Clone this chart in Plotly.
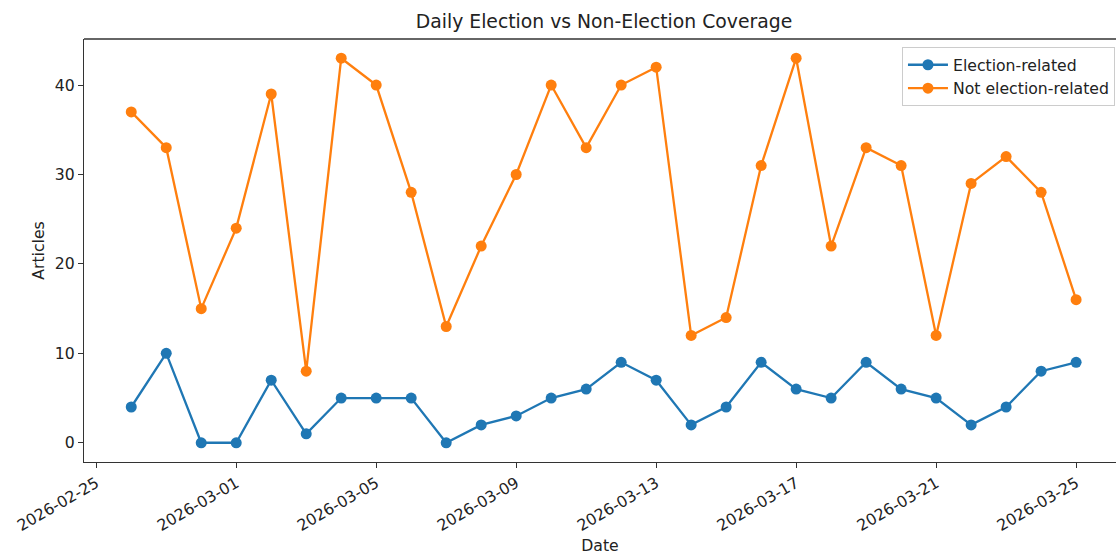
import plotly.graph_objects as go
import pandas as pd

# Daily article counts, 2026-02-26 through 2026-03-25
dates = pd.date_range("2026-02-26", "2026-03-25", freq="D")
election_related = [4, 10, 0, 0, 7, 1, 5, 5, 5, 0, 2, 3, 5, 6, 9, 7, 2, 4, 9, 6,
                    5, 9, 6, 5, 2, 4, 8, 9]
not_election_related = [37, 33, 15, 24, 39, 8, 43, 40, 28, 13, 22, 30, 40, 33, 40,
                        42, 12, 14, 31, 43, 22, 33, 31, 12, 29, 32, 28, 16]
series_names = ["Election-related", "Not election-related"]
y_ticks = [0, 10, 20, 30, 40]

BLUE = "#1f77b4"
ORANGE = "#ff7f0e"
FONT = "DejaVu Sans"
TXT = "#222222"
FS = 15.7
DAY_MS = 86400000

fig = go.Figure()
for name, vals, color in [(series_names[0], election_related, BLUE),
                          (series_names[1], not_election_related, ORANGE)]:
    fig.add_trace(go.Scatter(
        x=dates, y=vals, name=name, mode="lines+markers",
        line=dict(color=color, width=2.3),
        marker=dict(color=color, size=11, symbol="circle"),
    ))

# x range: 5% padding on the left, plot area runs to the right page edge
first, last = dates[0], dates[-1]
span_days = (last - first).days
x_lo = first - pd.Timedelta(days=span_days * 0.05)
x_hi = first + pd.Timedelta(days=28.14)

ymax = max(max(election_related), max(not_election_related))
ymin = min(min(election_related), min(not_election_related))
pad = (ymax - ymin) * 0.05

axis_line = dict(showline=True, linecolor="#333333", linewidth=1.3,
                 ticks="outside", ticklen=5, tickwidth=1.2, tickcolor="#333333",
                 showgrid=False, zeroline=False)

fig.update_layout(
    width=1116, height=555,
    margin=dict(l=84, r=0, t=39, b=93),
    paper_bgcolor="white", plot_bgcolor="white",
    font=dict(family=FONT, size=FS, color=TXT),
    title=dict(text="Daily Election vs Non-Election Coverage",
               x=604 / 1116, xanchor="center",
               y=1 - 21 / 555, yanchor="middle",
               font=dict(family=FONT, size=18.8, color=TXT)),
    xaxis=dict(**axis_line, mirror=False, range=[x_lo, x_hi], type="date",
               tick0="2026-02-25", dtick=4 * DAY_MS, tickformat="%Y-%m-%d",
               tickangle=-30, tickfont=dict(size=FS),
               title=dict(text="Date", standoff=7, font=dict(size=FS))),
    yaxis=dict(**axis_line, mirror=False, range=[ymin - pad, ymax + pad],
               tickvals=y_ticks, tickfont=dict(size=FS),
               title=dict(text="Articles", standoff=6, font=dict(size=FS))),
    legend=dict(x=0.999, xanchor="right", y=0.981, yanchor="top",
                bgcolor="rgba(255,255,255,0.85)", bordercolor="#cccccc",
                borderwidth=1, font=dict(size=FS), itemwidth=40),
    showlegend=True,
)

# top spine of the axes frame
fig.add_shape(type="line", xref="paper", yref="paper", x0=0, x1=1, y0=1, y1=1,
              line=dict(color="#333333", width=1.3))

fig.write_html("out.html")
